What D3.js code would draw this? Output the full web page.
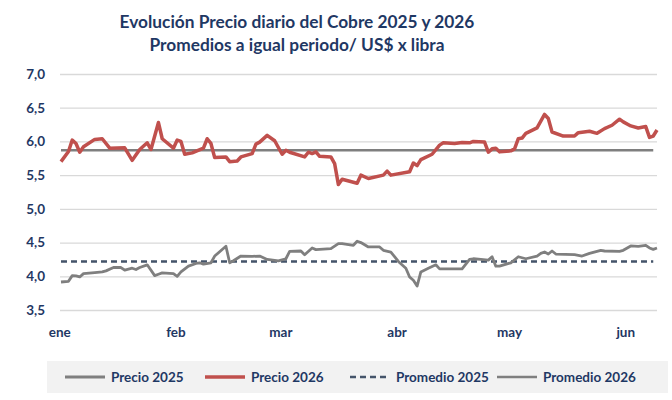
<!DOCTYPE html>
<html>
<head>
<meta charset="utf-8">
<script src="https://cdn.jsdelivr.net/npm/d3@7"></script>
<style>
  body { margin: 0; background: #fff; }
  svg text { font-family: Lato, "Open Sans", sans-serif; font-weight: bold; fill: #1F3864; }
</style>
</head>
<body>
<script>
// chart size
var w = 672;
var h = 400;

// data (dates are MM-DD, 2026 calendar)
var precio2026Dates = ["01-02","01-04","01-05","01-06","01-07","01-08","01-11","01-13","01-15","01-19",
  "01-21","01-23","01-25","01-26","01-28","01-29","02-01","02-02","02-03","02-04",
  "02-06","02-09","02-10","02-11","02-12","02-15","02-16","02-18","02-19","02-22",
  "02-23","02-24","02-26","02-28","03-02","03-03","03-04","03-08","03-09","03-10",
  "03-11","03-12","03-15","03-16","03-17","03-18","03-22","03-23","03-25","03-29",
  "03-30","03-31","04-05","04-06","04-07","04-08","04-11","04-13","04-14","04-17",
  "04-19","04-21","04-22","04-25","04-26","04-27","04-28","04-29","05-02","05-03",
  "05-04","05-05","05-06","05-09","05-11","05-12","05-13","05-16","05-19","05-20",
  "05-23","05-25","05-27","05-29","05-31","06-01","06-03","06-05","06-07","06-08",
  "06-09","06-10"];
var precio2026 = [5.70,5.85,6.02,5.97,5.84,5.92,6.03,6.04,5.90,5.905,
  5.72,5.88,5.98,5.88,6.28,6.04,5.90,6.02,6.00,5.81,
  5.83,5.90,6.04,5.97,5.76,5.77,5.70,5.71,5.77,5.82,
  5.96,5.99,6.09,6.01,5.81,5.87,5.84,5.77,5.84,5.82,
  5.845,5.78,5.77,5.67,5.36,5.44,5.38,5.50,5.45,5.50,
  5.56,5.50,5.55,5.68,5.64,5.73,5.81,5.945,5.98,5.97,
  5.985,5.98,6.00,5.99,5.84,5.89,5.90,5.845,5.86,5.89,
  6.04,6.05,6.12,6.20,6.40,6.34,6.14,6.08,6.08,6.13,
  6.15,6.12,6.19,6.24,6.33,6.29,6.23,6.20,6.22,6.06,
  6.08,6.17];

var precio2025Dates = ["01-02","01-04","01-05","01-06","01-07","01-08","01-11","01-13","01-14","01-16",
  "01-18","01-19","01-21","01-22","01-23","01-25","01-27","01-28","01-29","02-01",
  "02-02","02-03","02-05","02-07","02-08","02-09","02-11","02-12","02-15","02-16",
  "02-17","02-19","02-22","02-24","02-26","03-01","03-03","03-04","03-07","03-08",
  "03-10","03-11","03-15","03-17","03-18","03-21","03-22","03-23","03-25","03-28",
  "03-29","03-31","04-02","04-04","04-05","04-06","04-07","04-08","04-10","04-12",
  "04-13","04-15","04-19","04-21","04-22","04-24","04-26","04-27","04-28","04-29",
  "05-02","05-04","05-06","05-09","05-10","05-11","05-12","05-13","05-14","05-19",
  "05-21","05-23","05-26","05-27","05-31","06-01","06-03","06-05","06-07","06-08",
  "06-09","06-10"];
var precio2025 = [3.915,3.925,4.01,4.005,3.99,4.04,4.055,4.065,4.08,4.13,
  4.13,4.09,4.12,4.10,4.13,4.17,4.01,4.03,4.05,4.04,
  4.00,4.065,4.15,4.19,4.20,4.18,4.20,4.30,4.445,4.20,
  4.23,4.30,4.295,4.30,4.25,4.23,4.26,4.37,4.375,4.32,
  4.42,4.395,4.41,4.485,4.485,4.46,4.52,4.50,4.435,4.435,
  4.385,4.36,4.22,4.12,3.99,3.94,3.855,4.065,4.12,4.17,
  4.11,4.11,4.11,4.25,4.26,4.25,4.24,4.29,4.15,4.15,
  4.20,4.29,4.26,4.30,4.34,4.36,4.33,4.375,4.33,4.32,
  4.30,4.34,4.385,4.375,4.37,4.385,4.45,4.445,4.46,4.42,
  4.40,4.42];

// averages over the same period
var promedioDates = ["01-02","06-09"];
var promedio2025 = [4.22, 4.22];
var promedio2026 = [5.87, 5.87];

var monthStarts = ["01-01","02-01","03-01","04-01","05-01","06-01"];
var monthLabels = ["ene","feb","mar","abr","may","jun"];
var yTicks = [3.5, 4.0, 4.5, 5.0, 5.5, 6.0, 6.5, 7.0];

var titleLines = ["Evolución Precio diario del Cobre 2025 y 2026",
                  "Promedios a igual periodo/ US$ x libra"];

var parse = d3.timeParse("%Y-%m-%d");
function toDate(s) { return parse("2026-" + s); }

function pairs(dates, values) {
  return dates.map(function(d, i) { return { date: toDate(d), value: values[i] }; });
}

var xScale = d3.scaleTime()
  .domain([toDate("01-02"), toDate("06-10")])
  .range([61, 657]);

var yScale = d3.scaleLinear()
  .domain([3.5, 7.0])
  .range([310, 74]);

var fmt = function(v) { return d3.format(".1f")(v).replace(".", ","); };

var svg = d3.select("body")
  .append("svg")
  .attr("width", w)
  .attr("height", h);

// title
svg.selectAll("text.title")
  .data(titleLines)
  .enter()
  .append("text")
  .attr("class", "title")
  .attr("x", 297)
  .attr("y", function(d, i) { return 28 + i * 23; })
  .attr("text-anchor", "middle")
  .attr("font-size", "17.3px")
  .text(function(d) { return d; });

// gridlines + y labels
var yAxis = d3.axisLeft(yScale)
  .tickValues(yTicks)
  .tickSize(-(657 - 60))
  .tickPadding(15)
  .tickFormat(fmt);

var gy = svg.append("g")
  .attr("transform", "translate(60,0)")
  .call(yAxis);
gy.select(".domain").remove();
gy.selectAll(".tick line").attr("stroke", "#D9D9D9").attr("stroke-width", 1.3);
gy.selectAll(".tick text").attr("font-size", "13.5px").attr("x", -15);

// x labels (month starts)
var gx = svg.append("g")
  .attr("transform", "translate(2,321)")
  .call(d3.axisBottom(xScale)
    .tickValues(monthStarts.map(toDate))
    .tickSize(0)
    .tickPadding(0)
    .tickFormat(function(d, i) { return monthLabels[i]; }));
gx.select(".domain").remove();
gx.selectAll(".tick text").attr("font-size", "13.5px").attr("dy", "1.2em");

var line = d3.line()
  .x(function(d) { return xScale(d.date); })
  .y(function(d) { return yScale(d.value); });

var series = [
  { name: "Promedio 2026", data: pairs(promedioDates, promedio2026), color: "#7F7F7F", width: 2.6, dash: null },
  { name: "Promedio 2025", data: pairs(promedioDates, promedio2025), color: "#44546A", width: 2.4, dash: "6,4" },
  { name: "Precio 2025", data: pairs(precio2025Dates, precio2025), color: "#7F7F7F", width: 2.8, dash: null },
  { name: "Precio 2026", data: pairs(precio2026Dates, precio2026), color: "#C0504D", width: 3.5, dash: null }
];

svg.selectAll("path.series")
  .data(series)
  .enter()
  .append("path")
  .attr("class", "series")
  .attr("d", function(d) { return line(d.data); })
  .attr("fill", "none")
  .attr("stroke", function(d) { return d.color; })
  .attr("stroke-width", function(d) { return d.width; })
  .attr("stroke-dasharray", function(d) { return d.dash; })
  .attr("stroke-linejoin", "round");

// legend
var legendOrder = ["Precio 2025", "Precio 2026", "Promedio 2025", "Promedio 2026"];
var legendX = [65, 205, 350, 497];

svg.append("rect")
  .attr("x", 47)
  .attr("y", 361)
  .attr("width", 621)
  .attr("height", 32)
  .attr("fill", "#F2F2F2");

var items = svg.selectAll("g.legend")
  .data(legendOrder)
  .enter()
  .append("g")
  .attr("class", "legend")
  .attr("transform", function(d, i) { return "translate(" + legendX[i] + ",377)"; });

items.append("line")
  .attr("x1", 0)
  .attr("x2", 40)
  .attr("stroke", function(d) { return series.find(function(s) { return s.name == d; }).color; })
  .attr("stroke-width", function(d) { return series.find(function(s) { return s.name == d; }).width; })
  .attr("stroke-dasharray", function(d) { return series.find(function(s) { return s.name == d; }).dash; });

items.append("text")
  .attr("x", 46)
  .attr("dy", "0.35em")
  .attr("font-size", "13.5px")
  .text(function(d) { return d; });
</script>
</body>
</html>
